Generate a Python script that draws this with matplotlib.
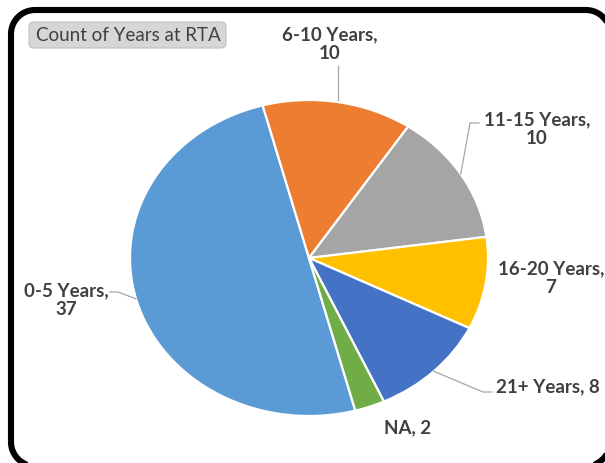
import numpy as np
import matplotlib
matplotlib.use("Agg")
import matplotlib.pyplot as plt
from matplotlib.patches import FancyBboxPatch

# data, in Excel series order (clockwise from the first-slice angle)
categories = ["0-5 Years", "6-10 Years", "11-15 Years", "16-20 Years", "21+ Years", "NA"]
counts = [37, 10, 10, 7, 8, 2]
colors = ["#5B9BD5", "#ED7D31", "#A5A5A5", "#FFC000", "#4472C4", "#70AD47"]
label_texts = ["0-5 Years,\n37", "6-10 Years,\n10", "11-15 Years,\n10",
               "16-20 Years,\n7", "21+ Years, 8", "NA, 2"]

TEXT = "#404040"
FONT = "Lato"

W, H = 605, 463
fig = plt.figure(figsize=(W / 100, H / 100), dpi=100)

# pie is drawn slightly squashed, like the original: centre and radii in pixels
CX, CY, RX, RY = 309, 258, 179, 158

ax = fig.add_axes([0, 0, 1, 1])
wedges, _ = ax.pie(counts, colors=colors, startangle=-75, counterclock=False,
                   wedgeprops=dict(edgecolor="white", linewidth=1.6))
ax.set_aspect("auto")
ax.set_xlim(-CX / RX, (W - CX) / RX)
ax.set_ylim((CY - H) / RY, CY / RY)
ax.axis("off")

# overlay axes in pixel units for frame, title box, labels and leader lines
ov = fig.add_axes([0, 0, 1, 1], facecolor="none")
ov.set_xlim(0, W)
ov.set_ylim(H, 0)
ov.set_autoscale_on(False)
ov.axis("off")


def edge_point(w, r=1.0):
    a = np.deg2rad((w.theta1 + w.theta2) / 2)
    return CX + RX * r * np.cos(a), CY - RY * r * np.sin(a)


def rounded_rect(x0, y0, x1, y1, r, n=20):
    # corners as arcs, y grows downward
    xs, ys = [], []
    for cx, cy, a0 in [(x1 - r, y0 + r, 90), (x1 - r, y1 - r, 0),
                       (x0 + r, y1 - r, -90), (x0 + r, y0 + r, 180)]:
        t = np.deg2rad(np.linspace(a0, a0 - 90, n))
        xs.extend(cx + r * np.cos(t))
        ys.extend(cy - r * np.sin(t))
    xs.append(xs[0])
    ys.append(ys[0])
    return xs, ys


# outer rounded frame (runs off the right and bottom edges)
fx, fy = rounded_rect(11, 10, 610, 466, 24)
ov.plot(fx, fy, color="black", lw=4.4, clip_on=False, solid_capstyle="round")

# chart title in a grey pill
ov.add_patch(FancyBboxPatch((29, 22), 197, 26, boxstyle="round,pad=0,rounding_size=5",
                            facecolor="#D6D6D6", edgecolor="#C0C0C0", linewidth=0.8))
ov.text(128, 35.5, "Count of Years at RTA", ha="center", va="center",
        fontsize=13.5, family=FONT, color=TEXT)

# label positions (pixels) and leader elbow points
label_pos = [(66, 300), (330, 44), (537, 129), (551, 278), (548, 387), (408, 428)]
elbows = [(118, 292), None, (470, 123), None, (483, 392), None]
ends = [(110, 292), None, (479, 123), None, (492, 392), None]

for w, txt, (lx, ly), el, en in zip(wedges, label_texts, label_pos, elbows, ends):
    ov.text(lx, ly, txt, ha="center", va="center", fontsize=13.5, family=FONT,
            fontweight="bold", color=TEXT, linespacing=1.15)
    if txt.startswith("6-10"):
        px, py = edge_point(w)
        ov.plot([px, px], [py - 2, 66], color="#A6A6A6", lw=0.9)
    elif el is not None:
        px, py = edge_point(w)
        ov.plot([px, el[0], en[0]], [py, el[1], en[1]], color="#A6A6A6", lw=0.9)

fig.savefig("out.png", dpi=100, facecolor="white")
